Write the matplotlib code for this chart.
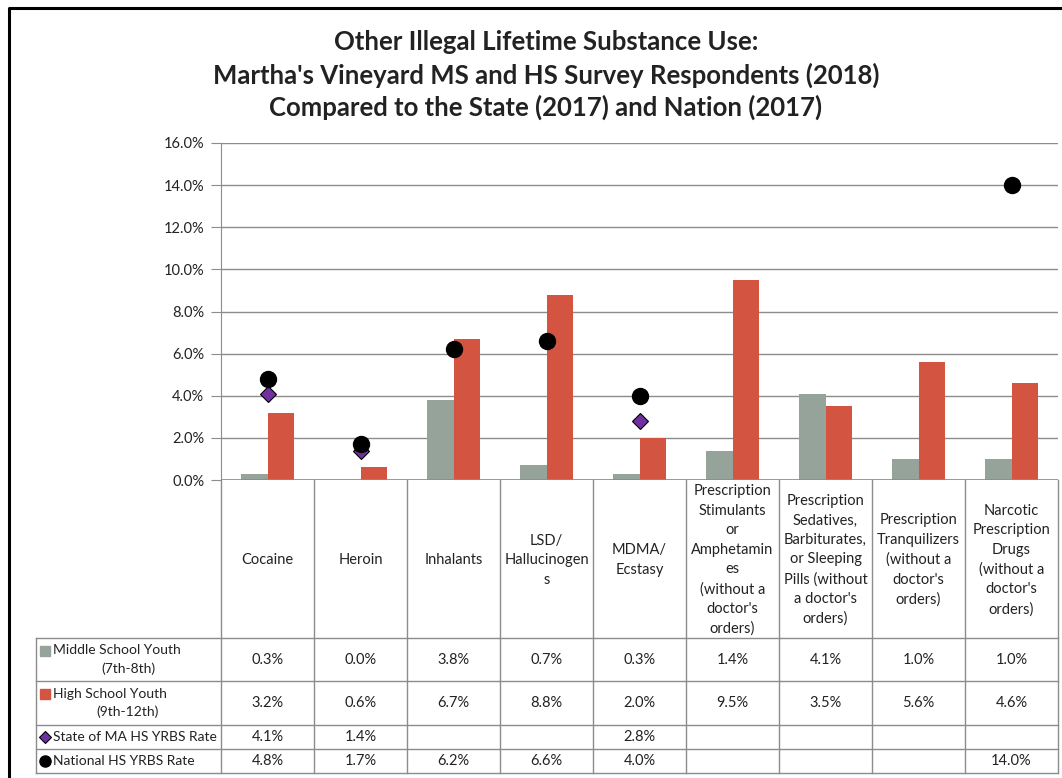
import matplotlib
matplotlib.use("Agg")
import matplotlib.pyplot as plt
from matplotlib.ticker import PercentFormatter
import numpy as np

plt.rcParams['font.family'] = ['Lato', 'DejaVu Sans']

categories = ["Cocaine", "Heroin", "Inhalants", "LSD/\nHallucinogen\ns", "MDMA/\nEcstasy",
              "Prescription\nStimulants\nor\nAmphetamin\nes\n(without a\ndoctor's\norders)",
              "Prescription\nSedatives,\nBarbiturates,\nor Sleeping\nPills (without\na doctor's\norders)",
              "Prescription\nTranquilizers\n(without a\ndoctor's\norders)",
              "Narcotic\nPrescription\nDrugs\n(without a\ndoctor's\norders)"]
ms_youth = [0.3, 0.0, 3.8, 0.7, 0.3, 1.4, 4.1, 1.0, 1.0]
hs_youth = [3.2, 0.6, 6.7, 8.8, 2.0, 9.5, 3.5, 5.6, 4.6]
state_ma = [4.1, 1.4, None, None, 2.8, None, None, None, None]
national = [4.8, 1.7, 6.2, 6.6, 4.0, None, None, None, 14.0]
series_names = ["Middle School Youth\n(7th-8th)", "High School Youth\n(9th-12th)",
                "State of MA HS YRBS Rate", "National HS YRBS Rate"]
title_lines = ["Other Illegal Lifetime Substance Use:",
               "Martha's Vineyard MS and HS Survey Respondents (2018)",
               "Compared to the State (2017) and Nation (2017)"]

grey = "#95a39b"
red = "#d35440"
purple = "#7030a0"
line_col = "#8c8c8c"
txt = "#222222"
fs = 10.5
W, H = 1062, 778

fig = plt.figure(figsize=(W / 100, H / 100), dpi=100)

# overlay in pixel coordinates for the frame and data table
tab = fig.add_axes([0, 0, 1, 1])
tab.set_xlim(0, W)
tab.set_ylim(H, 0)
tab.axis("off")

# plot area
x0, x1, ytop, ybot = 221, 1058, 143, 480
ax = fig.add_axes([x0 / W, 1 - ybot / H, (x1 - x0) / W, (ybot - ytop) / H])
n = len(categories)
x = np.arange(n)
bw = 0.29
ax.bar(x - bw / 2, ms_youth, bw, color=grey, zorder=3)
ax.bar(x + bw / 2, hs_youth, bw, color=red, zorder=3)
sx = [i for i, v in enumerate(state_ma) if v is not None]
ax.plot(sx, [state_ma[i] for i in sx], "D", color=purple, mec="black", mew=0.8, ms=8, zorder=4)
nx = [i for i, v in enumerate(national) if v is not None]
ax.plot(nx, [national[i] for i in nx], "o", color="black", ms=11.5, zorder=5)
ax.set_xlim(-0.5, n - 0.5)
ax.set_ylim(0, 16)
ax.set_yticks(np.arange(0, 17, 2))
ax.yaxis.set_major_formatter(PercentFormatter(decimals=1))
ax.set_xticks([])
ax.grid(axis="y", color=line_col, lw=1, zorder=0)
for s in ["top", "right", "bottom"]:
    ax.spines[s].set_visible(False)
ax.spines["left"].set_color(line_col)
ax.axhline(0, color=line_col, lw=1.2, zorder=6)
ax.tick_params(axis="y", colors=line_col, labelcolor=txt, labelsize=fs, length=7, pad=5)
ax.patch.set_alpha(0)

for yy, line in zip([42, 75, 107], title_lines):
    fig.text(546 / W, 1 - yy / H, line, ha="center", va="center",
             fontsize=18.5, fontweight="bold", color=txt)

# outer frame
tab.plot([9, 9, W + 5], [H + 5, 8, 8], color="black", lw=2.2)

# data table
col_w = (x1 - x0) / n
rows = [638, 681, 725, 749, 773]
for i in range(n + 1):
    tab.plot([x0 + i * col_w] * 2, [ybot, rows[-1]], color=line_col, lw=1)
tab.plot([36, 36], [rows[0], rows[-1]], color=line_col, lw=1)
for r in rows:
    tab.plot([36, x1], [r, r], color=line_col, lw=1)
for i, c in enumerate(categories):
    tab.text(x0 + (i + 0.5) * col_w, (ybot + rows[0]) / 2 + 1, c, ha="center", va="center",
             fontsize=fs, linespacing=1.5, color=txt)

table_vals = [ms_youth, hs_youth, state_ma, national]
for r, vals in enumerate(table_vals):
    yc = (rows[r] + rows[r + 1]) / 2
    for i, v in enumerate(vals):
        if v is not None:
            tab.text(x0 + (i + 0.5) * col_w, yc, f"{v:.1f}%", ha="center", va="center",
                     fontsize=fs, color=txt)

# row headers with legend keys
key_style = [dict(marker="s", color=grey, ms=7), dict(marker="s", color=red, ms=7),
             dict(marker="D", color=purple, mec="black", mew=0.8, ms=6),
             dict(marker="o", color="black", ms=8)]
for r, name in enumerate(series_names):
    yc = (rows[r] + rows[r + 1]) / 2
    if "\n" in name:
        first, second = name.split("\n")
        tab.plot([45], [yc - 9], linestyle="none", **key_style[r])
        tab.text(53, yc - 9, first, ha="left", va="center", fontsize=10, color=txt)
        tab.text(128, yc + 9, second, ha="center", va="center", fontsize=10, color=txt)
    else:
        tab.plot([45], [yc], linestyle="none", **key_style[r])
        tab.text(53, yc, name, ha="left", va="center", fontsize=10, color=txt)

fig.savefig("out.png", dpi=100)
